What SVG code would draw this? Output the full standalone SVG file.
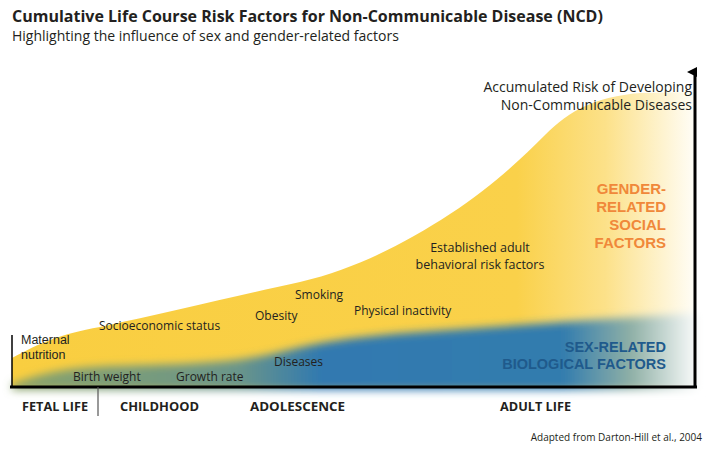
<svg xmlns="http://www.w3.org/2000/svg" width="712" height="465" viewBox="0 0 712 465">
<style>
text{font-family:"Open Sans","Noto Sans",sans-serif;fill:#231f20}
.lbl{font-size:12px}
.ax{font-size:12.5px;font-weight:bold}
.big{font-size:16px;font-weight:bold}
.cap{font-family:"Liberation Sans",Arial,sans-serif;font-weight:bold}
</style>
<defs>
<linearGradient id="yg" x1="12" y1="0" x2="694" y2="0" gradientUnits="userSpaceOnUse">
<stop offset="0" stop-color="#f9ce40"/>
<stop offset="0.74" stop-color="#fad14a"/>
<stop offset="0.87" stop-color="#fce189"/>
<stop offset="1" stop-color="#fffdf6"/>
</linearGradient>
<linearGradient id="bg" x1="12" y1="0" x2="700" y2="0" gradientUnits="userSpaceOnUse">
<stop offset="0" stop-color="#8aa36a"/>
<stop offset="0.33" stop-color="#6a958a"/>
<stop offset="0.45" stop-color="#3079b0"/>
<stop offset="0.8" stop-color="#327cae"/>
<stop offset="0.9" stop-color="#8fb0a6"/>
<stop offset="1" stop-color="#ffffff"/>
</linearGradient>
<filter id="blur" x="-5%" y="-30%" width="110%" height="160%"><feGaussianBlur stdDeviation="4"/></filter>
<marker id="ah" markerWidth="10" markerHeight="10" refX="5" refY="8" orient="auto" markerUnits="userSpaceOnUse"><path d="M0,10 L5,0 L10,10 Z" fill="#000"/></marker>
</defs>
<text class="big" x="12" y="22">Cumulative Life Course Risk Factors for Non-Communicable Disease (NCD)</text>
<text x="12" y="41" style="font-size:14px">Highlighting the influence of sex and gender-related factors</text>
<g id="yellow-area">
<path d="M12,358 C40,343 60,334 100,327 C170,312 240,295 300,282 C360,268 410,240 450,214 C490,188 520,160 545,135 C570,110 595,97 640,93 L694,92 L694,387 L12,387 Z" fill="url(#yg)"/>
</g>
<g id="blue-area">
<path d="M12,384 C40,374 60,368 110,366 C200,364 240,362 280,352 C320,342 360,336 420,332 C520,325 620,318 700,313 L700,390 L12,390 Z" fill="url(#bg)" filter="url(#blur)"/>
</g>
<g id="connectors">
<line x1="10" y1="387" x2="697" y2="387" stroke="#000" stroke-width="3"/>
<line x1="12" y1="335" x2="12" y2="387" stroke="#000" stroke-width="1.5"/>
<line x1="98" y1="387" x2="98" y2="416" stroke="#555" stroke-width="1.2"/>
<line x1="695" y1="388" x2="695" y2="72" stroke="#000" stroke-width="3" marker-end="url(#ah)"/>
</g>
<g id="labels">
<text class="lbl" style="font-family:'Liberation Sans',Arial,sans-serif;font-size:12.5px"><tspan x="21" y="344">Maternal</tspan><tspan x="21" y="358.5">nutrition</tspan></text>
<text class="lbl" x="73" y="381">Birth weight</text>
<text class="lbl" x="176" y="381">Growth rate</text>
<text class="lbl" x="99" y="330">Socioeconomic status</text>
<text class="lbl" x="255" y="320">Obesity</text>
<text class="lbl" x="295" y="299">Smoking</text>
<text class="lbl" x="354" y="315">Physical inactivity</text>
<text class="lbl" x="274" y="366">Diseases</text>
<text class="lbl" text-anchor="middle" style="font-size:12.5px"><tspan x="480" y="252">Established adult</tspan><tspan x="480" y="269">behavioral risk factors</tspan></text>
<text class="lbl" text-anchor="end" style="font-size:14px"><tspan x="692" y="92">Accumulated Risk of Developing</tspan><tspan x="692" y="110">Non-Communicable Diseases</tspan></text>
<text class="cap" text-anchor="end" style="fill:#f0883a;font-size:15px"><tspan x="666" y="194">GENDER-</tspan><tspan x="666" y="212">RELATED</tspan><tspan x="666" y="230">SOCIAL</tspan><tspan x="666" y="248">FACTORS</tspan></text>
<text class="cap" text-anchor="end" style="fill:#1f5a8c;font-size:14.5px"><tspan x="666" y="352">SEX-RELATED</tspan><tspan x="666" y="369">BIOLOGICAL FACTORS</tspan></text>
<text class="ax" x="22" y="411" textLength="66" lengthAdjust="spacingAndGlyphs">FETAL LIFE</text>
<text class="ax" x="120" y="411" textLength="79" lengthAdjust="spacingAndGlyphs">CHILDHOOD</text>
<text class="ax" x="250" y="411" textLength="95" lengthAdjust="spacingAndGlyphs">ADOLESCENCE</text>
<text class="ax" x="500" y="411" textLength="71" lengthAdjust="spacingAndGlyphs">ADULT LIFE</text>
<text x="702" y="441" text-anchor="end" style="font-size:10px">Adapted from Darton-Hill et al., 2004</text>
</g>
</svg>
